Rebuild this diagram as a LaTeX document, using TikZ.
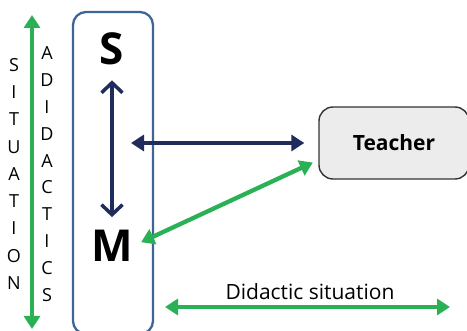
\documentclass[tikz,border=0pt]{standalone}
\usepackage{fontspec}
\setmainfont{Open Sans}
\usepackage{tikz}
\usetikzlibrary{arrows.meta,positioning}

\definecolor{sgreen}{RGB}{42,176,85}
\definecolor{snavy}{RGB}{31,44,92}
\definecolor{sblue}{RGB}{62,101,148}
\definecolor{tgray}{RGB}{235,236,235}

\tikzset{
  bigletter/.style={inner sep=0pt,font=\fontsize{44}{44}\selectfont\bfseries},
  vletter/.style={inner sep=0pt,font=\fontsize{18}{18}\selectfont},
  teacherbox/.style={draw=black!80,fill=tgray,line width=1.4pt,rounded corners=14pt,
    minimum width=150pt,minimum height=72pt,font=\fontsize{21}{21}\selectfont\bfseries},
  navyarrow/.style={snavy,line width=3.8pt,{Triangle[length=13pt,width=16pt]}-{Triangle[length=13pt,width=16pt]}},
  greenarrow/.style={sgreen,line width=4.3pt,{Triangle[length=13pt,width=16pt]}-{Triangle[length=13pt,width=16pt]}}
}

\begin{document}
\begin{tikzpicture}[x=1pt,y=-1pt]
  \useasboundingbox (0,0) rectangle (467,331);
  \clip (0,0) rectangle (467,331);

  % Milieu frame
  \draw[sblue,line width=2.3pt,rounded corners=13pt] (73,12) rectangle (153,334);

  % Side labels
  \draw[greenarrow] (32,15) coordinate (ad-top) -- (32,329) coordinate (ad-bot);
  \foreach \ch [count=\i] in {S,I,T,U,A,T,I,O,N}
    \node[vletter] (sit\i) at (14,{65+27.25*(\i-1)}) {\ch};
  \foreach \ch [count=\i] in {A,D,I,D,A,C,T,I,C,S}
    \node[vletter] (ad\i) at (47,{53+26.9*(\i-1)}) {\ch};

  % Subject and milieu
  \node[bigletter] (S) at (112,49) {S};
  \node[bigletter] (M) at (112,246) {M};
  \draw[snavy,line width=3.5pt,{Straight Barb[length=10pt,width=21pt]}-{Straight Barb[length=10pt,width=21pt]},
    shorten <=15pt,shorten >=13pt] (S.south) -- (M.north);

  % Teacher
  \node[teacherbox] (T) at (394,143) {Teacher};
  \coordinate (SMmid) at (131,143);
  \draw[navyarrow,shorten >=14pt] (SMmid) -- (T.west);
  \draw[greenarrow,shorten <=9pt,shorten >=6pt] (M.east) -- ([yshift=-17pt]T.west);

  % Didactic situation
  \coordinate (ds-l) at (165,307);
  \coordinate (ds-r) at (450,307);
  \draw[greenarrow] (ds-l) -- (ds-r);
  \node[font=\fontsize{21}{21}\selectfont] (DS) at (310,292) {Didactic situation};
\end{tikzpicture}
\end{document}
